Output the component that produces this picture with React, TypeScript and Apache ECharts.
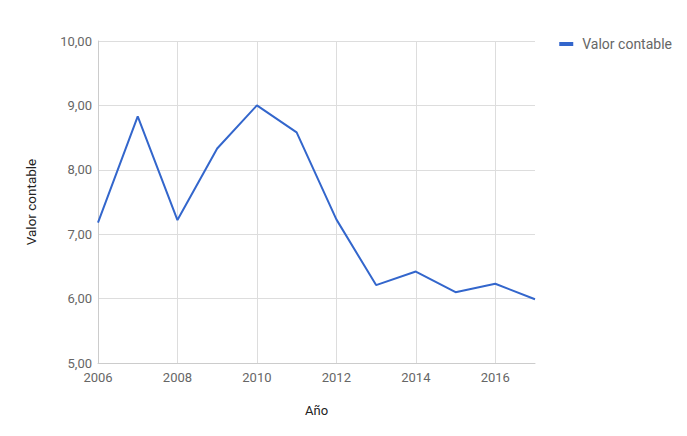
import React, { useEffect, useRef } from "react";
import * as echarts from "echarts";

const years = ["2006", "2007", "2008", "2009", "2010", "2011", "2012", "2013", "2014", "2015", "2016", "2017"];
const valorContable = [7.18, 8.83, 7.22, 8.33, 9.0, 8.58, 7.23, 6.21, 6.42, 6.1, 6.23, 5.99];
const seriesName = "Valor contable";
const xTitle = "Año";
const yTitle = "Valor contable";

export default function App() {
  const ref = useRef<HTMLDivElement>(null);
  useEffect(() => {
    if (!ref.current) return;
    const chart = echarts.init(ref.current, undefined, { renderer: "svg" });
    const font = "Roboto, Arial, sans-serif";
    chart.setOption({
      animation: false,
      textStyle: { fontFamily: font },
      grid: { left: 98, right: 152, top: 41, bottom: 73 },
      legend: {
        data: [seriesName],
        right: 10,
        top: 32,
        icon: "rect",
        itemWidth: 14,
        itemHeight: 4,
        itemGap: 10,
        textStyle: { fontSize: 14, color: "#666", fontFamily: font, padding: [0, 0, 0, 4] },
      },
      xAxis: {
        type: "category",
        data: years,
        boundaryGap: false,
        name: xTitle,
        nameLocation: "middle",
        nameGap: 41,
        nameTextStyle: { fontSize: 13, color: "#222", fontFamily: font },
        axisLine: { show: true, lineStyle: { color: "#ccc" } },
        axisTick: { show: false },
        axisLabel: { interval: 1, fontSize: 13, color: "#666", margin: 8, fontFamily: font },
        splitLine: { show: true, interval: 1, lineStyle: { color: "#ddd" } },
      },
      yAxis: {
        type: "value",
        min: 5,
        max: 10,
        interval: 1,
        name: yTitle,
        nameLocation: "middle",
        nameGap: 60,
        nameTextStyle: { fontSize: 13.5, color: "#222", fontFamily: font },
        axisLine: { show: true, lineStyle: { color: "#ccc" } },
        axisTick: { show: false },
        axisLabel: {
          fontSize: 13,
          color: "#666",
          margin: 6,
          fontFamily: font,
          formatter: (v: number) => v.toFixed(2).replace(".", ","),
        },
        splitLine: { show: true, lineStyle: { color: "#ddd" } },
      },
      series: [
        {
          name: seriesName,
          type: "line",
          data: valorContable,
          showSymbol: false,
          symbol: "none",
          lineStyle: { color: "#3366cc", width: 2 },
          itemStyle: { color: "#3366cc" },
        },
      ],
    });
    return () => chart.dispose();
  }, []);
  return <div ref={ref} style={{ width: 687, height: 436, position: "absolute", left: 0, top: 0 }} />;
}
